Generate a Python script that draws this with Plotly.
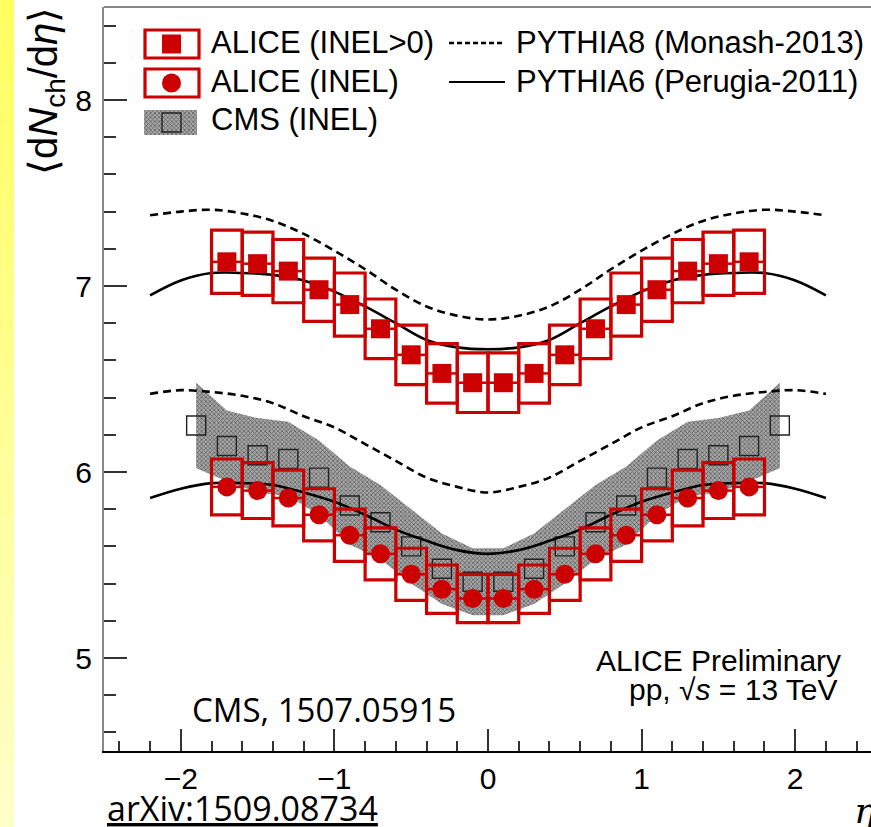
import plotly.graph_objects as go

# ---------------- data ----------------
eta_alice = [-1.7, -1.5, -1.3, -1.1, -0.9, -0.7, -0.5, -0.3, -0.1,
             0.1, 0.3, 0.5, 0.7, 0.9, 1.1, 1.3, 1.5, 1.7]
alice_inelgt0 = [7.13, 7.12, 7.08, 6.98, 6.90, 6.77, 6.63, 6.53, 6.48,
                 6.48, 6.53, 6.63, 6.77, 6.90, 6.98, 7.08, 7.12, 7.13]
alice_inelgt0_sys = [0.17, 0.17, 0.17, 0.17, 0.17, 0.16, 0.16, 0.16, 0.16,
                     0.16, 0.16, 0.16, 0.16, 0.17, 0.17, 0.17, 0.17, 0.17]
alice_inel = [5.92, 5.90, 5.86, 5.77, 5.66, 5.56, 5.45, 5.37, 5.32,
              5.32, 5.37, 5.45, 5.56, 5.66, 5.77, 5.86, 5.90, 5.92]
alice_inel_sys = [0.15, 0.15, 0.15, 0.14, 0.14, 0.14, 0.14, 0.13, 0.13,
                  0.13, 0.13, 0.14, 0.14, 0.14, 0.14, 0.15, 0.15, 0.15]
bin_halfwidth = [0.1] * 18

eta_cms = [-1.9, -1.7, -1.5, -1.3, -1.1, -0.9, -0.7, -0.5, -0.3, -0.1,
           0.1, 0.3, 0.5, 0.7, 0.9, 1.1, 1.3, 1.5, 1.7, 1.9]
cms_inel = [6.25, 6.14, 6.09, 6.07, 5.97, 5.82, 5.73, 5.60, 5.48, 5.41,
            5.41, 5.48, 5.60, 5.73, 5.82, 5.97, 6.07, 6.09, 6.14, 6.25]
cms_sys = [0.23, 0.19, 0.20, 0.20, 0.20, 0.21, 0.20, 0.20, 0.19, 0.18,
           0.18, 0.19, 0.20, 0.20, 0.21, 0.20, 0.20, 0.20, 0.19, 0.23]

eta_pythia = [-2.2, -2.0, -1.8, -1.6, -1.4, -1.2, -1.0, -0.8, -0.6, -0.4, -0.2, 0.0,
              0.2, 0.4, 0.6, 0.8, 1.0, 1.2, 1.4, 1.6, 1.8, 2.0, 2.2]
pythia8_inelgt0 = [7.38, 7.40, 7.41, 7.39, 7.35, 7.28, 7.19, 7.09, 6.98, 6.89, 6.84, 6.82,
                   6.84, 6.89, 6.98, 7.09, 7.19, 7.28, 7.35, 7.39, 7.41, 7.40, 7.38]
pythia6_inelgt0 = [6.95, 7.03, 7.07, 7.07, 7.06, 7.03, 6.97, 6.89, 6.80, 6.71, 6.67, 6.66,
                   6.67, 6.71, 6.80, 6.89, 6.97, 7.03, 7.06, 7.07, 7.07, 7.03, 6.95]
pythia8_inel = [6.42, 6.44, 6.43, 6.41, 6.37, 6.30, 6.24, 6.15, 6.06, 5.97, 5.92, 5.89,
                5.92, 5.97, 6.06, 6.15, 6.24, 6.30, 6.37, 6.41, 6.43, 6.44, 6.42]
pythia6_inel = [5.86, 5.91, 5.94, 5.94, 5.93, 5.89, 5.84, 5.77, 5.69, 5.63, 5.58, 5.56,
                5.58, 5.63, 5.69, 5.77, 5.84, 5.89, 5.93, 5.94, 5.94, 5.91, 5.86]

xticks = [-2, -1, 0, 1, 2]
yticks = [5, 6, 7, 8]

# ---------------- geometry / style ----------------
W, H = 871, 827
L, R, T, B = 104, 0, 7, 76
X_RANGE = [-2.5, 2.4935]
Y_RANGE = [4.5, 8.5]
PW, PH = W - L - R, H - T - B
RED = "#CC0000"
ARIAL = "Liberation Sans, Arial, sans-serif"
CAL = "Open Sans, sans-serif"
HATCH = dict(shape="x", fgcolor="#111111", bgcolor="#a8a8a8", size=3, solidity=0.45)


def px(xp):
    return (xp - L) / PW


def py(yp):
    return (H - B - yp) / PH


def dx(xp):  # pixel -> data x (legend glyphs only)
    return X_RANGE[0] + (xp - L) / PW * (X_RANGE[1] - X_RANGE[0])


def dy(yp):  # pixel -> data y (legend glyphs only)
    return Y_RANGE[1] - (yp - T) / PH * (Y_RANGE[1] - Y_RANGE[0])


fig = go.Figure()

# CMS hatched band
band_x = eta_cms + eta_cms[::-1]
band_y = [v + e for v, e in zip(cms_inel, cms_sys)] + \
         [v - e for v, e in zip(cms_inel[::-1], cms_sys[::-1])]
fig.add_trace(go.Scatter(
    x=band_x, y=band_y, fill="toself", mode="lines",
    line=dict(width=0, color="rgba(0,0,0,0)"),
    fillcolor="rgba(0,0,0,0)", fillpattern=HATCH,
    hoverinfo="skip", showlegend=False))

# legend glyph for the CMS band
fig.add_trace(go.Scatter(
    x=[dx(144), dx(197), dx(197), dx(144), dx(144)],
    y=[dy(110), dy(110), dy(135), dy(135), dy(110)],
    fill="toself", mode="lines", line=dict(width=0, color="rgba(0,0,0,0)"),
    fillcolor="rgba(0,0,0,0)", fillpattern=HATCH,
    hoverinfo="skip", showlegend=False))

# CMS open squares
fig.add_trace(go.Scatter(
    x=eta_cms, y=cms_inel, mode="markers",
    marker=dict(symbol="square-open", size=19, color="#222222",
                line=dict(width=1.4, color="#222222")),
    showlegend=False))

# PYTHIA curves
for yy, dash in [(pythia8_inelgt0, "8px,5px"), (pythia8_inel, "8px,5px"),
                 (pythia6_inelgt0, "solid"), (pythia6_inel, "solid")]:
    fig.add_trace(go.Scatter(
        x=eta_pythia, y=yy, mode="lines",
        line=dict(color="black", width=2.6, dash=dash, shape="spline", smoothing=1.0),
        showlegend=False))

# ALICE points
fig.add_trace(go.Scatter(
    x=eta_alice, y=alice_inelgt0, mode="markers",
    marker=dict(symbol="square", size=19, color=RED),
    error_x=dict(type="data", array=bin_halfwidth, color=RED, thickness=2.5, width=0),
    showlegend=False))
fig.add_trace(go.Scatter(
    x=eta_alice, y=alice_inel, mode="markers",
    marker=dict(symbol="circle", size=19, color=RED),
    error_x=dict(type="data", array=bin_halfwidth, color=RED, thickness=2.5, width=0),
    showlegend=False))

shapes = []
# ALICE systematic boxes
for vals, syss in [(alice_inelgt0, alice_inelgt0_sys), (alice_inel, alice_inel_sys)]:
    for x, v, s, hw in zip(eta_alice, vals, syss, bin_halfwidth):
        shapes.append(dict(type="rect", xref="x", yref="y",
                           x0=x - hw, x1=x + hw, y0=v - s, y1=v + s,
                           line=dict(color=RED, width=3.2), fillcolor="rgba(0,0,0,0)"))

# yellow gradient strip on left
n = 40
c0, c1 = (255, 255, 96), (255, 255, 200)
for i in range(n):
    f = i / (n - 1)
    col = "rgb(%d,%d,%d)" % tuple(round(a + (b - a) * f) for a, b in zip(c0, c1))
    shapes.append(dict(type="rect", xref="paper", yref="paper", layer="below",
                       x0=px(0), x1=px(14), y0=py(H * i / n), y1=py(H * (i + 1) / n + 1),
                       line=dict(width=0), fillcolor=col))

# top frame line
shapes.append(dict(type="line", xref="paper", yref="paper", x0=0, x1=1, y0=1, y1=1,
                   line=dict(color="#888888", width=2)))

# ---------------- legend (drawn) ----------------
ann = []
shapes.append(dict(type="rect", xref="paper", yref="paper",
                   x0=px(145), x1=px(199), y0=py(30), y1=py(58),
                   line=dict(color=RED, width=3.2)))
shapes.append(dict(type="rect", xref="paper", yref="paper",
                   x0=px(162), x1=px(181), y0=py(34.5), y1=py(53.5),
                   line=dict(width=0), fillcolor=RED))
shapes.append(dict(type="rect", xref="paper", yref="paper",
                   x0=px(145), x1=px(199), y0=py(69), y1=py(97),
                   line=dict(color=RED, width=3.2)))
shapes.append(dict(type="circle", xref="paper", yref="paper",
                   x0=px(162), x1=px(181), y0=py(73.5), y1=py(92.5),
                   line=dict(width=0), fillcolor=RED))
shapes.append(dict(type="rect", xref="paper", yref="paper",
                   x0=px(162), x1=px(181), y0=py(113), y1=py(132),
                   line=dict(width=1.4, color="#222222")))
shapes.append(dict(type="line", xref="paper", yref="paper",
                   x0=px(449), x1=px(505), y0=py(43), y1=py(43),
                   line=dict(color="black", width=2.6, dash="5px,3px")))
shapes.append(dict(type="line", xref="paper", yref="paper",
                   x0=px(449), x1=px(505), y0=py(82), y1=py(82),
                   line=dict(color="black", width=2.2)))

leg_font = dict(family=ARIAL, size=31, color="black")
for txt, x, y in [("ALICE (INEL>0)", 209, 43), ("ALICE (INEL)", 209, 81),
                  ("CMS (INEL)", 209, 120),
                  ("PYTHIA8 (Monash-2013)", 514, 43), ("PYTHIA6 (Perugia-2011)", 514, 81)]:
    ann.append(dict(text=txt, x=px(x), y=py(y), xref="paper", yref="paper",
                    xanchor="left", yanchor="middle", showarrow=False, font=leg_font))

ann.append(dict(text="ALICE Preliminary", x=px(843), y=py(660), xref="paper", yref="paper",
                xanchor="right", yanchor="middle", showarrow=False,
                font=dict(family=ARIAL, size=30, color="black")))
ann.append(dict(text="pp, √<i>s</i> = 13 TeV", x=px(840), y=py(689), xref="paper", yref="paper",
                xanchor="right", yanchor="middle", showarrow=False,
                font=dict(family=ARIAL, size=30, color="black")))
ann.append(dict(text="CMS, 1507.05915", x=px(190), y=py(709), xref="paper", yref="paper",
                xanchor="left", yanchor="middle", showarrow=False,
                font=dict(family=CAL, size=33, color="black")))
ann.append(dict(text="<u>arXiv:1509.08734</u>", x=px(105), y=py(808), xref="paper", yref="paper",
                xanchor="left", yanchor="middle", showarrow=False,
                font=dict(family=CAL, size=34, color="black")))
ann.append(dict(text="⟨d<i>N</i><sub>ch</sub>/d<i>η</i>⟩", x=px(46), y=py(91),
                xref="paper", yref="paper", textangle=-90,
                xanchor="center", yanchor="middle", showarrow=False,
                font=dict(family=ARIAL, size=40, color="black")))
ann.append(dict(text="<i>η</i>", x=px(852), y=py(810), xref="paper", yref="paper",
                xanchor="left", yanchor="middle", showarrow=False,
                font=dict(family="DejaVu Serif, serif", size=36, color="black")))

fig.update_layout(
    width=W, height=H,
    margin=dict(l=L, r=R, t=T, b=B, pad=0),
    paper_bgcolor="white", plot_bgcolor="white",
    showlegend=False,
    shapes=shapes, annotations=ann,
    xaxis=dict(range=X_RANGE, tickvals=xticks, ticktext=["−2", "−1", "0", "1", "2"],
               ticks="inside", ticklen=22, tickwidth=1.5, tickcolor="#333333",
               showline=True, linecolor="black", linewidth=2, mirror=False,
               showgrid=False, zeroline=False,
               tickfont=dict(family=ARIAL, size=30, color="black"),
               minor=dict(dtick=0.2, tick0=0, ticks="inside", ticklen=10,
                          tickwidth=1.5, tickcolor="#333333", showgrid=False)),
    yaxis=dict(range=Y_RANGE, tickvals=yticks,
               ticks="inside", ticklen=23, tickwidth=1.5, tickcolor="#333333",
               showline=True, linecolor="#888888", linewidth=2, mirror=False,
               showgrid=False, zeroline=False, ticklabelstandoff=4,
               tickfont=dict(family=ARIAL, size=30, color="black"),
               minor=dict(dtick=0.2, tick0=0, ticks="inside", ticklen=12,
                          tickwidth=1.5, tickcolor="#333333", showgrid=False)),
)

fig.write_html("out.html")
